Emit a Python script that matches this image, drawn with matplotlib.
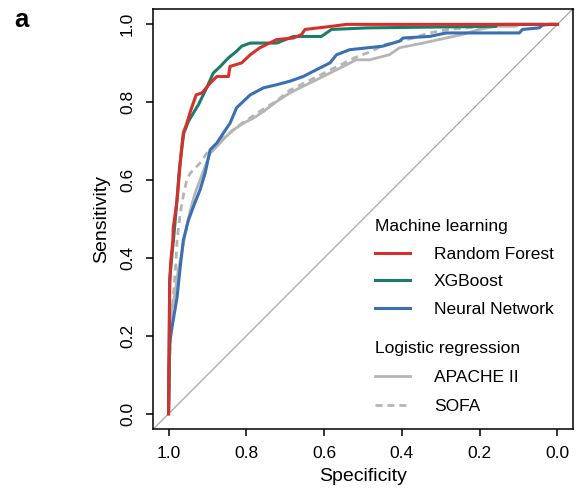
import matplotlib
matplotlib.use("Agg")
from matplotlib import pyplot as plt
import numpy as np

# ROC curves: (specificity, sensitivity)
rf_spec = [1.0, 0.997, 0.994, 0.989, 0.988, 0.978, 0.970, 0.966, 0.962, 0.953, 0.944,
           0.929, 0.914, 0.893, 0.876, 0.846, 0.842, 0.812, 0.790, 0.765, 0.722, 0.679,
           0.658, 0.649, 0.581, 0.543, 0.0]
rf_sens = [0.0, 0.343, 0.395, 0.446, 0.477, 0.549, 0.644, 0.686, 0.721, 0.746, 0.776,
           0.819, 0.824, 0.849, 0.866, 0.866, 0.892, 0.901, 0.922, 0.940, 0.961, 0.965,
           0.974, 0.987, 0.995, 1.0, 1.0]

xgb_spec = [1.0, 0.997, 0.992, 0.987, 0.980, 0.972, 0.966, 0.961, 0.949, 0.923, 0.902,
            0.885, 0.867, 0.846, 0.825, 0.812, 0.790, 0.722, 0.679, 0.607, 0.594, 0.581,
            0.488, 0.158, 0.158, 0.0]
xgb_sens = [0.0, 0.34, 0.40, 0.45, 0.53, 0.63, 0.68, 0.72, 0.751, 0.794, 0.837,
            0.875, 0.892, 0.914, 0.931, 0.944, 0.952, 0.952, 0.969, 0.969, 0.978, 0.987,
            0.991, 0.995, 1.0, 1.0]

nn_spec = [1.0, 0.998, 0.996, 0.991, 0.978, 0.970, 0.962, 0.949, 0.936, 0.919, 0.906,
           0.897, 0.893, 0.876, 0.859, 0.842, 0.825, 0.790, 0.756, 0.722, 0.688, 0.654,
           0.619, 0.585, 0.568, 0.534, 0.449, 0.406, 0.397, 0.329, 0.286, 0.098, 0.090,
           0.047, 0.038, 0.021, 0.0]
nn_sens = [0.0, 0.137, 0.19, 0.223, 0.300, 0.377, 0.446, 0.497, 0.532, 0.575, 0.618,
           0.660, 0.678, 0.695, 0.721, 0.746, 0.786, 0.819, 0.837, 0.845, 0.854, 0.866,
           0.884, 0.901, 0.922, 0.935, 0.944, 0.957, 0.965, 0.969, 0.978, 0.978, 0.987,
           0.991, 0.998, 1.0, 1.0]

apache_spec = [1.0, 0.998, 0.995, 0.985, 0.975, 0.966, 0.957, 0.944, 0.932, 0.919, 0.906,
               0.893, 0.876, 0.855, 0.833, 0.808, 0.782, 0.756, 0.722, 0.688, 0.654, 0.619,
               0.585, 0.551, 0.517, 0.483, 0.432, 0.406, 0.346, 0.286, 0.244, 0.201, 0.158,
               0.107, 0.098, 0.0]
apache_sens = [0.0, 0.15, 0.25, 0.30, 0.37, 0.412, 0.463, 0.523, 0.566, 0.601, 0.635,
               0.669, 0.686, 0.709, 0.729, 0.746, 0.759, 0.776, 0.802, 0.824, 0.841, 0.858,
               0.875, 0.892, 0.909, 0.909, 0.922, 0.940, 0.952, 0.965, 0.974, 0.987, 0.995,
               0.995, 1.0, 1.0]

sofa_spec = [1.0, 0.997, 0.993, 0.987, 0.982, 0.978, 0.970, 0.962, 0.953, 0.944, 0.919,
             0.902, 0.885, 0.867, 0.845, 0.82, 0.79, 0.76, 0.72, 0.69, 0.65, 0.62, 0.58,
             0.55, 0.52, 0.48, 0.445, 0.37, 0.33, 0.28, 0.21, 0.158, 0.10, 0.0]
sofa_sens = [0.0, 0.15, 0.25, 0.31, 0.377, 0.446, 0.515, 0.56, 0.601, 0.618, 0.644,
             0.669, 0.686, 0.703, 0.72, 0.74, 0.76, 0.78, 0.805, 0.83, 0.85, 0.865, 0.885,
             0.90, 0.915, 0.93, 0.948, 0.965, 0.978, 0.987, 0.993, 0.997, 1.0, 1.0]

ticks = [1.0, 0.8, 0.6, 0.4, 0.2, 0.0]

plt.rcParams['font.family'] = ['Liberation Sans', 'DejaVu Sans']

fig = plt.figure(figsize=(5.76, 4.88), dpi=100)
ax = fig.add_axes([153 / 576, 58.7 / 488, 420 / 576, 420.5 / 488])

# chance line
ax.plot([1.04, -0.04], [-0.04, 1.04], color='#a8a8a8', lw=0.9, zorder=1)

l_apache, = ax.plot(apache_spec, apache_sens, color='#b5b5b5', lw=2.0, label='APACHE II')
l_sofa, = ax.plot(sofa_spec, sofa_sens, color='#b5b5b5', lw=2.0, ls=(0, (2.5, 1.8)), label='SOFA')
l_nn, = ax.plot(nn_spec, nn_sens, color='#3a70b3', lw=2.2, label='Neural Network')
l_xgb, = ax.plot(xgb_spec, xgb_sens, color='#1d7b6c', lw=2.2, label='XGBoost')
l_rf, = ax.plot(rf_spec, rf_sens, color='#d6302b', lw=2.2, label='Random Forest')

ax.set_xlim(1.04, -0.04)
ax.set_ylim(-0.04, 1.04)
ax.set_xticks(ticks)
ax.set_yticks(ticks)
ax.set_xticklabels([f"{t:.1f}" for t in ticks])
ax.set_yticklabels([f"{t:.1f}" for t in ticks], rotation=90, va='center')
ax.tick_params(direction='out', length=5, width=1.1, labelsize=12.5, pad=7)
ax.tick_params(axis='y', pad=8)
for s in ax.spines.values():
    s.set_linewidth(1.1)

ax.set_xlabel('Specificity', fontsize=14, va='center')
ax.set_ylabel('Sensitivity', fontsize=14, va='center')
ax.xaxis.set_label_coords(0.5, -0.113)
ax.yaxis.set_label_coords(-0.122, 0.5)

leg1 = ax.legend(handles=[l_rf, l_xgb, l_nn], title='Machine learning', loc='upper left',
                 bbox_to_anchor=(375 / 576, 1 - 219 / 488), bbox_transform=fig.transFigure,
                 frameon=False, fontsize=12.5, title_fontsize=12.5, alignment='left',
                 handlelength=2.0, handletextpad=1.4, labelspacing=0.72, borderpad=0,
                 borderaxespad=0)
ax.add_artist(leg1)
ax.legend(handles=[l_apache, l_sofa], title='Logistic regression', loc='upper left',
          bbox_to_anchor=(375 / 576, 1 - 341 / 488), bbox_transform=fig.transFigure,
          frameon=False, fontsize=12.5, title_fontsize=12.5, alignment='left',
          handlelength=2.0, handletextpad=1.4, labelspacing=0.8, borderpad=0,
          borderaxespad=0)

fig.text(14 / 576, 1 - 20 / 488, 'a', fontsize=18.5, fontweight='bold', ha='left', va='center')

fig.savefig('out.png', dpi=100)
